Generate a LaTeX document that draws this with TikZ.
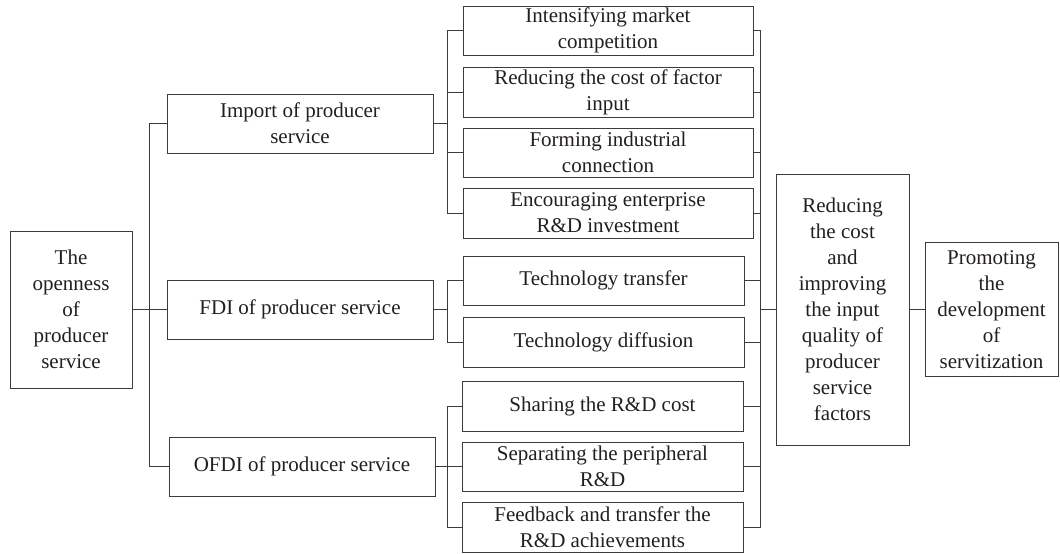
\documentclass[tikz,border=0pt]{standalone}
\usepackage{fontspec}
\setmainfont{Liberation Serif}
\definecolor{linec}{HTML}{3C3C3C}
\definecolor{textc}{HTML}{231F20}
\begin{document}
\begin{tikzpicture}[x=1pt,y=-1pt,
  box/.style={draw=linec, line width=0.9pt, inner sep=0pt, align=center,
    text=textc, font=\fontsize{21}{26}\selectfont},
  link/.style={draw=linec, line width=0.9pt}]
\useasboundingbox (0,0) rectangle (1060,554);

% vertical bus lines
\coordinate (busA) at (149,0);
\coordinate (busB) at (447,0);
\coordinate (busC) at (760,0);

% source
\node[box, minimum width=122, minimum height=157] (open) at (71,309.5)
  {The\\openness\\of\\producer\\service};

% channels
\node[box, minimum width=266, minimum height=59] (imp) at (300,123.5)
  {Import of producer\\service};
\node[box, minimum width=266, minimum height=59] (fdi) at (300,309.5)
  {FDI of producer service};
\node[box, minimum width=266, minimum height=59] (ofdi) at (302,466.5)
  {OFDI of producer service};

% mechanisms of import
\node[box, minimum width=290, minimum height=49] (m1) at (608,30.5)
  {Intensifying market\\competition};
\node[box, minimum width=290, minimum height=50] (m2) at (608,92)
  {Reducing the cost of factor\\input};
\node[box, minimum width=290, minimum height=49] (m3) at (608,152.5)
  {Forming industrial\\connection};
\node[box, minimum width=290, minimum height=50] (m4) at (608,213)
  {Encouraging enterprise\\R\&D investment};

% mechanisms of FDI
\node[box, minimum width=281, minimum height=49] (t1) at (603.5,280.5)
  {Technology transfer};
\node[box, minimum width=281, minimum height=50] (t2) at (603.5,342)
  {Technology diffusion};

% mechanisms of OFDI
\node[box, minimum width=281, minimum height=50] (s1) at (602.5,406)
  {Sharing the R\&D cost};
\node[box, minimum width=281, minimum height=49] (s2) at (602.5,466.5)
  {Separating the peripheral\\R\&D};
\node[box, minimum width=281, minimum height=50] (s3) at (602.5,527)
  {Feedback and transfer the\\R\&D achievements};

% outcomes
\node[box, minimum width=133, minimum height=271] (big) at (842.5,309.5)
  {Reducing\\the cost\\and\\improving\\the input\\quality of\\producer\\service\\factors};
\node[box, minimum width=133, minimum height=134] (prom) at (991.5,309.5)
  {Promoting\\the\\development\\of\\servitization};

% source to channels
\draw[link] (open.east) -- (fdi.west);
\draw[link] (imp.west) -- (imp.west -| busA) -- (ofdi.west -| busA) -- (ofdi.west);

% channels to mechanisms
\draw[link] (imp.east) -- (imp.east -| busB);
\draw[link] (m1.west) -- (m1.west -| busB) -- (m4.west -| busB) -- (m4.west);
\draw[link] (m2.west) -- (m2.west -| busB);
\draw[link] (m3.west) -- (m3.west -| busB);

\draw[link] (fdi.east) -- (fdi.east -| busB);
\draw[link] (t1.west) -- (t1.west -| busB) -- (t2.west -| busB) -- (t2.west);

\draw[link] (ofdi.east) -- (ofdi.east -| busB);
\draw[link] (s1.west) -- (s1.west -| busB) -- (s3.west -| busB) -- (s3.west);
\draw[link] (s2.west) -- (s2.west -| busB);

% mechanisms to outcome
\draw[link] (m1.east) -- (m1.east -| busC) -- (s3.east -| busC) -- (s3.east);
\foreach \n in {m2,m3,m4,t1,t2,s1,s2}
  \draw[link] (\n.east) -- (\n.east -| busC);
\draw[link] (big.west) -- (big.west -| busC);
\draw[link] (big.east) -- (prom.west);
\end{tikzpicture}
\end{document}
